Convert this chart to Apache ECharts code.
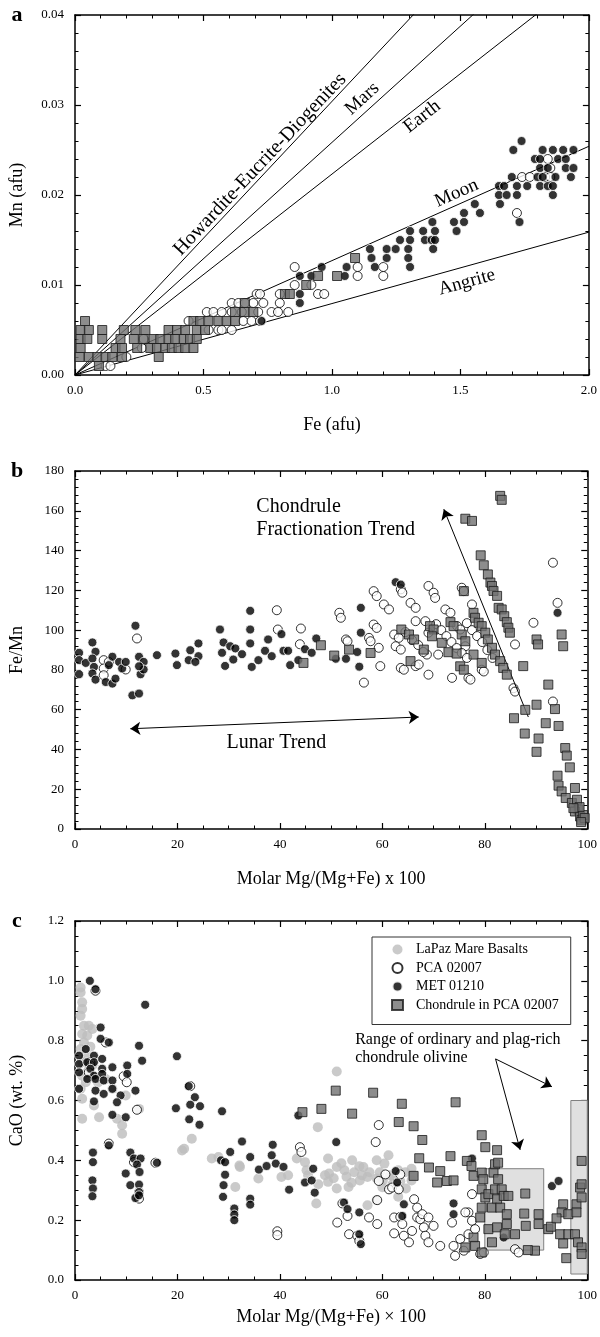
<!DOCTYPE html>
<html><head><meta charset="utf-8">
<script src="https://cdn.jsdelivr.net/npm/echarts@6/dist/echarts.min.js"></script>
<style>html,body{margin:0;padding:0;background:#fff}#c{width:600px;height:1337px}</style>
</head><body><div id="c"></div>
<script>
const FONT = '"Liberation Serif","Times New Roman",serif';

// ---------- Panel a : Mn vs Fe (afu) ----------
const lineNames = ['Howardite-Eucrite-Diogenites','Mars','Earth','Moon','Angrite'];
const lineRatios = [32.9, 38.7, 44.8, 78.7, 126];           // Fe/Mn of reference lines
const lineLabelFe = [0.72, 1.118, 1.351, 1.485, 1.525];
const lineLabelMn = [0.0234, 0.0307, 0.0287, 0.0202, 0.0103];

const aChondrule = [[0.018,0.002],[0.054,0.002],[0.087,0.002],[0.119,0.002],[0.145,0.002],[0.183,0.002],[0.326,0.002],
[0.022,0.003],[0.158,0.003],[0.183,0.003],[0.242,0.003],[0.293,0.003],[0.319,0.003],[0.351,0.003],[0.377,0.003],[0.403,0.003],[0.429,0.003],[0.461,0.003],
[0.022,0.004],[0.048,0.004],[0.106,0.004],[0.177,0.004],[0.229,0.004],[0.267,0.004],[0.306,0.004],[0.332,0.004],[0.364,0.004],[0.39,0.004],[0.423,0.004],[0.448,0.004],[0.474,0.004],
[0.022,0.005],[0.054,0.005],[0.106,0.005],[0.19,0.005],[0.235,0.005],[0.274,0.005],[0.364,0.005],[0.397,0.005],[0.429,0.005],[0.474,0.005],[0.506,0.005],
[0.039,0.006],[0.461,0.006],[0.487,0.006],[0.519,0.006],[0.558,0.006],[0.59,0.006],[0.623,0.006],
[0.623,0.007],[0.661,0.007],[0.694,0.007],[0.661,0.008],[0.817,0.009],[0.836,0.009],[0.9,0.010],[0.946,0.011],[1.02,0.011],[1.09,0.013],[0.093,0.001]];
const aPCA = [[0.119,0.001],[0.138,0.001],[0.2,0.002],[0.26,0.003],[0.267,0.004],[0.52,0.005],[0.558,0.005],[0.571,0.005],[0.61,0.005],[0.442,0.006],[0.655,0.006],[0.687,0.006],[0.72,0.006],
[0.513,0.007],[0.539,0.007],[0.571,0.007],[0.61,0.007],[0.649,0.007],[0.713,0.007],[0.765,0.007],[0.79,0.007],[0.83,0.007],[0.61,0.008],[0.636,0.008],[0.661,0.008],[0.694,0.008],[0.733,0.008],[0.797,0.008],
[0.707,0.009],[0.72,0.009],[0.797,0.009],[0.946,0.009],[0.97,0.009],[0.855,0.010],[0.92,0.010],[0.855,0.012],[1.1,0.011],[1.2,0.011],[1.1,0.012],[1.2,0.012],
[1.72,0.018],[1.74,0.022],[1.77,0.022],[1.83,0.022],[1.85,0.022],[1.84,0.024],[1.85,0.023]];
const aMET = [[0.726,0.006],[0.875,0.008],[0.875,0.009],[0.875,0.011],[0.92,0.011],[0.96,0.012],[1.057,0.012],[1.05,0.011],[1.167,0.012],[1.304,0.012],
[1.154,0.013],[1.213,0.013],[1.297,0.013],[1.148,0.014],[1.213,0.014],[1.248,0.014],[1.297,0.014],[1.394,0.014],
[1.265,0.015],[1.304,0.015],[1.362,0.015],[1.388,0.015],[1.401,0.015],[1.304,0.016],[1.355,0.016],[1.401,0.016],[1.485,0.016],
[1.391,0.017],[1.475,0.017],[1.514,0.017],[1.73,0.017],[1.514,0.018],[1.576,0.018],[1.556,0.019],[1.654,0.019],
[1.65,0.020],[1.68,0.020],[1.72,0.020],[1.86,0.020],[1.65,0.021],[1.67,0.021],[1.72,0.021],[1.76,0.021],[1.81,0.021],[1.84,0.021],[1.86,0.021],
[1.70,0.022],[1.80,0.022],[1.82,0.022],[1.87,0.022],[1.93,0.022],[1.81,0.023],[1.84,0.023],[1.91,0.023],[1.94,0.023],
[1.79,0.024],[1.81,0.024],[1.88,0.024],[1.91,0.024],[1.706,0.025],[1.82,0.025],[1.86,0.025],[1.90,0.025],[1.94,0.025],[1.738,0.026]];

// ---------- Panel b : Fe/Mn vs Mg# ----------
const bMET = [[0.8,88.6],[0.8,84.9],[0.8,77.8],[2.1,83.5],[3.4,93.8],[4.0,89.1],[3.4,85.7],[3.7,81.5],[3.4,78.2],[4.0,75.1],[6.0,73.9],[7.3,73.1],[7.9,75.6],[7.3,86.6],[6.6,82.4],[8.6,84.0],[9.2,80.7],[9.9,84.0],[11.8,102.2],[11.2,67.2],[12.5,68.1],[12.5,86.6],[13.4,84.0],[12.8,77.8],[13.4,80.2],[12.5,81.8],[16.0,87.4],
[19.6,88.2],[19.9,82.4],[22.2,84.9],[22.5,89.9],[24.1,93.3],[24.1,86.9],[23.5,84.0],
[28.3,100.3],[28.7,88.6],[29.0,93.8],[29.3,82.0],[30.3,91.9],[31.3,90.8],[30.9,85.2],[32.6,87.9],[34.2,109.7],[34.2,100.3],[34.2,93.3],[34.5,81.5],[35.8,84.9],[37.1,89.6],[37.7,95.3],[38.4,86.9],[40.3,98.0],[40.7,89.6],[42.0,82.4],[41.6,89.6],[43.6,84.9],[44.9,90.4],[46.2,88.6],[47.1,95.8],
[50.9,85.6],[52.9,85.6],[55.5,81.6],[55.1,89.0],[55.8,98.7],[55.8,111.2],[62.6,124.1],[63.6,122.9],[94.2,108.7]];
const bPCA = [[5.6,84.9],[5.6,80.7],[5.6,77.3],[9.9,80.2],[12.1,95.8],[6.6,84.0],[39.4,110],[39.6,100.3],[44.1,100.8],[43.9,92.9],
[51.6,108.7],[51.9,106.2],[52.9,95.3],[53.2,94.4],[57.4,96.1],[57.7,94.4],[59.3,91.1],[56.4,73.6],[58.3,102.8],[58.9,101.1],
[58.3,119.6],[58.9,117.1],[60.3,112.9],[61.3,110.4],[59.6,81.9],[62.3,97.8],[63.2,96.1],[62.6,91.9],[63.6,90.2],[63.6,81.0],[64.2,80.1],[66.5,81.9],[67.1,82.7],
[65.5,113.7],[66.5,111.2],[66.5,104.5],[68.4,104.5],[69.0,98.7],[68.7,87.7],[69.0,77.6],[70.9,87.7],[63.6,120.5],[63.9,118.8],[69.0,122.2],[70.0,118.8],[70.3,116.2],
[72.3,110.4],[73.3,108.7],[74.6,102.0],[75.2,100.3],[76.2,91.9],[73.6,76.0],[76.8,76.0],[77.2,75.1],
[75.5,121.3],[75.9,119.6],[77.5,112.9],[79.4,80.1],[79.8,79.2],[85.6,70.8],[85.9,69.1],[89.5,103.7],[85.9,92.8],[93.3,133.9],[94.2,113.7],[93.3,64.1],
[64.5,99],[65.8,95],[67,92.5],[68,89],[70.5,103],[71.5,100],[72.5,97],[73.5,94],[74.5,91],[75.5,88.5],[76.5,86],[76.5,103.5],[77.5,100],[78.5,97],[79.5,94],[80.5,90],[81.5,86]];
const bChondrule = [[44.6,83.5],[48.0,92.4],[50.6,87.2],[53.5,90.2],[57.7,88.5],[63.7,100.3],[65.2,97.8],[66.2,95.3],[68.1,90.2],[65.5,84.4],
[69.3,102.0],[70.0,100.3],[71.6,93.6],[72.9,88.9],[74.5,88.2],[69.7,96.9],[73.3,104.0],[73.9,102.0],[75.5,97.8],[76.2,94.4],[77.8,87.7],[75.2,81.8],[75.9,80.1],[79.4,83.5],
[75.9,119.6],[77.8,108.7],[78.1,106.2],[78.8,103.7],[79.4,102.0],[80.1,98.7],[80.6,95.3],[81.4,91.1],[82.0,87.7],[83.0,84.4],[83.6,81.0],[84.3,77.6],
[83.0,167.5],[83.3,165.5],[76.2,156.0],[77.5,154.9],[79.2,137.6],[79.8,132.6],[80.6,128.0],[81.1,123.9],[81.4,122.2],[81.7,119.7],[82.4,117.2],
[82.7,111.2],[83.3,110.4],[83.8,107.0],[84.3,104.0],[84.6,101.2],[84.9,98.7],
[87.5,81.9],[90.1,95.3],[90.4,92.8],[95.0,97.8],[95.3,91.9],[92.4,72.6],[93.7,60.3],[90.1,62.5],
[85.7,55.7],[87.9,59.9],[91.9,53.2],[94.4,51.8],[87.8,48.0],[90.5,45.5],[90.1,38.8],
[95.7,40.7],[96.0,36.9],[96.6,31.0],[94.2,26.8],[94.4,21.8],[95.0,18.9],[97.6,20.6],[95.8,15.6],[97.0,13.1],[98.0,14.7],[98.3,9.7],[97.6,8.8],[98.6,6.3],[98.9,4.6],[99.2,7.0],[98.5,11.0],[97.3,10.5],[99.5,5.5],[98.8,3.5]];

// ---------- Panel c : CaO vs Mg# ----------
const cLaPaz = [[1.1,0.978],[1.1,0.961],[1.4,0.928],[1.4,0.906],[1.1,0.883],[1.75,0.85],[2.7,0.85],[3.4,0.839],[1.4,0.822],[2.4,0.817],[1.75,0.794],[1.1,0.772],[2.1,0.75],[1.4,0.728],[3.4,0.717],[1.4,0.683],[2.1,0.661],[1.1,0.639],[1.4,0.606],[3.7,0.583],[1.4,0.539],[4.7,0.544],[8.2,0.539],[9.2,0.517],[9.2,0.489],[12.5,0.572],[9.9,0.617],[6.0,0.672],[7.3,0.639],[2.6,0.7],[3.0,0.78],[4.5,0.66],
[20.9,0.433],[22.8,0.472],[21.3,0.439],[26.7,0.406],[28.0,0.411],[32.2,0.378],[31.3,0.311],[32.1,0.383],[35.8,0.339],[40.3,0.344],[41.6,0.35],[43.3,0.406],[44.9,0.394],[45.2,0.367],[45.5,0.35],[47.1,0.256],[48.8,0.35],[49.4,0.406],[47.4,0.511],[49.4,0.328],[51.1,0.697],
[54.1,0.4],[58.9,0.4],[61.2,0.417],[51.1,0.378],[49.6,0.356],[51.1,0.306],[55.6,0.333],[60.1,0.333],[65.7,0.372],[65.7,0.333],[58.9,0.267],[64.6,0.306],[53.4,0.311],[57.1,0.344],[52.6,0.367],[56.3,0.378],[62.2,0.344],[58.9,0.339],[60.4,0.389],[57.1,0.25],[63.1,0.278],[63.1,0.367],
[50.5,0.34],[53.0,0.345],[54.5,0.36],[55.5,0.38],[57.5,0.36],[59.5,0.36],[61.5,0.35],[63.5,0.33],[54.0,0.325],[56.0,0.35],[60.0,0.31],[62.0,0.32],[64.5,0.36],[66.0,0.35],[52.0,0.39],[47.5,0.32]];
const cPCA = [[9.5,0.681],[10.1,0.661],[12.1,0.569],[11.5,0.394],[12.5,0.272],[12.5,0.294],[15.7,0.392],[22.5,0.648],[6.6,0.456],[43.9,0.444],[44.2,0.428],[39.5,0.163],[39.5,0.15],[4.0,0.967],[6.0,0.794],[3.0,0.728],[3.0,0.717],[2.7,0.694],
[59.3,0.518],[58.7,0.461],[60.6,0.353],[61.3,0.303],[59.3,0.331],[61.9,0.309],[63.2,0.303],[63.5,0.353],[59.0,0.267],[52.2,0.256],[51.2,0.192],[53.2,0.214],[53.5,0.153],[55.1,0.148],[55.5,0.131],[57.4,0.209],[59.0,0.187],
[62.3,0.209],[63.5,0.211],[63.9,0.187],[62.3,0.156],[64.2,0.148],[65.2,0.126],[65.8,0.164],[66.8,0.209],[67.4,0.203],[68.1,0.176],[68.4,0.148],[69.0,0.126],[70.0,0.181],[66.2,0.27],[66.8,0.242],[67.8,0.22],[69.0,0.209],
[71.3,0.114],[73.9,0.114],[74.2,0.081],[75.2,0.137],[75.9,0.098],[76.8,0.153],[77.5,0.287],[76.8,0.226],[77.5,0.198],[78.1,0.17],[79.1,0.087],[79.8,0.092],[85.9,0.103],[86.6,0.092],[73.6,0.192],[76.2,0.226]];
const cMET = [[2.9,1.0],[4.0,0.972],[13.7,0.92],[5.0,0.844],[5.0,0.806],[6.6,0.794],[2.1,0.772],[0.8,0.75],[3.7,0.75],[0.8,0.722],[2.4,0.728],[3.7,0.728],[5.3,0.739],[0.8,0.694],[3.0,0.706],[5.3,0.706],[3.7,0.683],[5.3,0.689],[7.3,0.711],[10.2,0.717],
[2.4,0.672],[4.0,0.672],[5.6,0.667],[7.3,0.667],[0.8,0.639],[4.0,0.633],[5.6,0.622],[7.3,0.639],[8.9,0.617],[3.7,0.597],[8.2,0.594],[7.3,0.552],[11.8,0.633],[9.9,0.544],[12.5,0.783],[13.1,0.733],[10.2,0.689],
[19.9,0.748],[22.2,0.648],[23.4,0.611],[22.5,0.586],[24.4,0.581],[19.7,0.574],[22.3,0.537],[24.3,0.519],[28.7,0.564],[6.6,0.45],
[3.5,0.426],[3.5,0.394],[3.4,0.333],[3.5,0.306],[3.4,0.28],[10.8,0.426],[11.5,0.406],[12.8,0.406],[12.1,0.386],[12.6,0.361],[9.9,0.356],[10.8,0.317],[12.5,0.319],[12.5,0.294],[11.8,0.274],[12.5,0.283],[16.0,0.392],
[28.5,0.4],[29.3,0.394],[30.3,0.428],[32.6,0.463],[34.2,0.411],[29.3,0.352],[29.0,0.317],[28.9,0.278],[31.1,0.239],[31.1,0.219],[31.1,0.2],[34.2,0.272],[34.2,0.252],
[35.9,0.369],[37.4,0.381],[38.6,0.452],[38.4,0.417],[39.2,0.389],[40.7,0.378],[41.8,0.302],[44.9,0.326],[46.5,0.372],[46.2,0.333],[46.8,0.292],[43.6,0.55],
[51.0,0.461],[62.6,0.364],[62.9,0.326],[52.5,0.259],[53.2,0.237],[55.5,0.226],[55.5,0.153],[55.8,0.12],[64.2,0.253],[63.9,0.214],[73.9,0.256],[73.9,0.22],[77.5,0.406],[83.7,0.142],[93.1,0.314],[94.4,0.331]];
const cChondrule = [[44.4,0.561],[48.1,0.572],[54.1,0.556],[63.8,0.589],[74.3,0.594],[50.9,0.633],[58.2,0.626],
[63.2,0.528],[66.1,0.514],[67.8,0.468],[79.4,0.484],[80.1,0.444],[82.4,0.434],[67.2,0.407],[69.1,0.376],
[71.3,0.364],[73.3,0.414],[72.6,0.331],[70.7,0.326],[73.9,0.333],[76.5,0.398],[77.4,0.381],[77.8,0.348],[79.4,0.359],[79.7,0.337],[81.7,0.359],[82.0,0.387],[82.6,0.337],[82.6,0.392],[66.1,0.348],
[79.4,0.303],[80.1,0.276],[79.4,0.242],[80.7,0.287],[82.0,0.303],[82.4,0.27],[83.3,0.303],[83.7,0.281],[84.6,0.281],[81.4,0.242],[83.0,0.242],[84.3,0.22],[79.1,0.209],[80.7,0.17],[82.4,0.176],[84.3,0.187],[83.9,0.153],[85.9,0.153],
[87.9,0.289],[87.7,0.222],[88.0,0.181],[90.5,0.22],[90.5,0.187],[92.4,0.17],[89.8,0.098],[81.4,0.126],[77.8,0.142],[76.2,0.109],[78.1,0.114],[79.4,0.092],
[95.3,0.253],[95.0,0.226],[96.3,0.22],[97.9,0.253],[97.9,0.226],[98.9,0.398],[98.6,0.309],[98.9,0.276],[98.9,0.32],[94.7,0.153],[96.3,0.153],[97.6,0.153],[95.3,0.122],[98.2,0.126],[98.9,0.109],[98.9,0.087],[95.9,0.073],
[92.9,0.178],[94.0,0.206],[88.4,0.1]];

// shaded chondrule-olivine ranges [xmin, ymin, xmax, ymax]
const cRanges = [[80, 0.1, 91.5, 0.372], [96.8, 0.02, 100, 0.6]];

// annotation arrows [x1,y1,x2,y2]
const bChondruleArrow = [88.5, 56.3, 72.0, 160.8];
const bLunarArrow = [10.8, 50.4, 67.1, 56.3];
const cArrows = [[82.1, 0.739, 93.1, 0.646], [82.1, 0.739, 86.9, 0.435]];

const xTicksA = {min:0, max:2, interval:0.5};
const yTicksA = {min:0, max:0.04, interval:0.01};
const xTicksB = {min:0, max:100, interval:20};
const yTicksB = {min:0, max:180, interval:20};
const yTicksC = {min:0, max:1.2, interval:0.2};

function axis(gi, pos, t, minorN, fmt, showLabel, name, nameGap) {
  const o = {
    type:'value', gridIndex:gi, position:pos, min:t.min, max:t.max, interval:t.interval,
    axisLine:{show:true, onZero:false, lineStyle:{color:'#000', width:1.5}},
    axisTick:{show:true, inside:true, length:6, lineStyle:{color:'#000', width:1.2}},
    minorTick:{show:true, splitNumber:minorN, length:3.5, lineStyle:{color:'#000', width:1}},
    splitLine:{show:false}, minorSplitLine:{show:false},
    axisLabel:{show:showLabel, formatter:fmt, color:'#000', fontFamily:FONT, fontSize:13,
      margin:(pos==='left'||pos==='right')?11:9},
  };
  if (name) {
    o.name = name; o.nameLocation = 'middle'; o.nameGap = nameGap;
    o.nameTextStyle = {fontFamily:FONT, fontSize:18, color:'#000'};
  }
  return o;
}
const f2 = v => v.toFixed(2), f1 = v => v.toFixed(1), f0 = v => String(v);

const grids = [
  {left:75, top:15, width:514, height:360},
  {left:75, top:471, width:514, height:358},
  {left:75, top:921, width:514, height:359}
];

// axis index 2*g = bottom/left of panel g, 2*g+1 = mirrored top/right
const xAxes = [
  axis(0,'bottom',xTicksA,5,f1,true,'Fe (afu)',41), axis(0,'top',xTicksA,5,f1,false),
  axis(1,'bottom',xTicksB,4,f0,true,'Molar Mg/(Mg+Fe) x 100',41), axis(1,'top',xTicksB,4,f0,false),
  axis(2,'bottom',xTicksB,4,f0,true,'Molar Mg/(Mg+Fe) \u00d7 100',28), axis(2,'top',xTicksB,4,f0,false)
];
const yAxes = [
  axis(0,'left',yTicksA,5,f2,true,'Mn (afu)',49), axis(0,'right',yTicksA,5,f2,false),
  axis(1,'left',yTicksB,5,f0,true,'Fe/Mn',49), axis(1,'right',yTicksB,5,f0,false),
  axis(2,'left',yTicksC,4,f1,true,'CaO (wt. %)',49), axis(2,'right',yTicksC,4,f1,false)
];

const stylePCA = {color:'#fff', borderColor:'#000', borderWidth:1};
const styleMET = {color:'#000', borderColor:'#fff', borderWidth:1};
const styleCh = {color:'#707070', borderColor:'#1a1a1a', borderWidth:1};
const styleLP = {color:'#bdbdbd'};

function scat(name, data, g, style, symbol, size, z) {
  return {type:'scatter', name, data, xAxisIndex:2*g, yAxisIndex:2*g, symbol, symbolSize:size,
    itemStyle:style, z, silent:true, emphasis:{disabled:true}};
}
function arrowSeries(g, segs, both) {
  return {type:'line', data:[], xAxisIndex:2*g, yAxisIndex:2*g, silent:true, z:6,
    markLine:{silent:true, symbol: both ? ['arrow','arrow'] : ['none','arrow'], symbolSize:10, precision:6,
      lineStyle:{color:'#000', width:1, type:'solid'}, label:{show:false}, emphasis:{disabled:true},
      animation:false,
      data: segs.map(s => [{coord:[s[0],s[1]]},{coord:[s[2],s[3]]}])}};
}

const series = [];
lineRatios.forEach((r, i) => {
  series.push({type:'line', name:lineNames[i], data:[[0,0],[2.0, 2.0/r]], xAxisIndex:0, yAxisIndex:0,
    symbol:'none', clip:true, silent:true, z:1, lineStyle:{color:'#000', width:1}});
});
series.push(scat('PCA 02007', aPCA, 0, stylePCA, 'circle', 9, 3));
series.push(scat('MET 01210', aMET, 0, styleMET, 'circle', 9, 4));
series.push(scat('Chondrule in PCA 02007', aChondrule, 0, styleCh, 'rect', 9, 5));

series.push(scat('PCA 02007', bPCA, 1, stylePCA, 'circle', 9, 3));
series.push(scat('MET 01210', bMET, 1, styleMET, 'circle', 9, 4));
series.push(scat('Chondrule in PCA 02007', bChondrule, 1, styleCh, 'rect', 9, 5));
series.push(arrowSeries(1, [bChondruleArrow], false));
series.push(arrowSeries(1, [bLunarArrow], true));

const lp = scat('LaPaz Mare Basalts', cLaPaz, 2, styleLP, 'circle', 10, 2);
lp.markArea = {silent:true, itemStyle:{color:'#e0e0e0', borderColor:'#808080', borderWidth:1},
  data: cRanges.map(r => [{coord:[r[0], r[1]]}, {coord:[r[2], r[3]]}])};
series.push(lp);
series.push(scat('PCA 02007', cPCA, 2, stylePCA, 'circle', 9, 3));
series.push(scat('MET 01210', cMET, 2, styleMET, 'circle', 9, 4));
series.push(scat('Chondrule in PCA 02007', cChondrule, 2, styleCh, 'rect', 9, 5));
series.push(arrowSeries(2, cArrows, false));

const chart = echarts.init(document.getElementById('c'), null, {renderer:'canvas'});
chart.setOption({
  animation:false, backgroundColor:'#fff',
  grid: grids, xAxis: xAxes, yAxis: yAxes, series,
  legend: {
    data: ['LaPaz Mare Basalts','PCA 02007','MET 01210','Chondrule in PCA 02007'],
    orient:'vertical', left:372, top:937, itemGap:3.5, itemWidth:11, itemHeight:10,
    padding:[5, 12, 12, 19], borderColor:'#333', borderWidth:1, selectedMode:false,
    textStyle:{fontFamily:FONT, fontSize:14, color:'#000', lineHeight:15, padding:[0,0,0,8]}
  }
});

function txt(gi, x, y, text, size, align, rot, bold) {
  const p = chart.convertToPixel({gridIndex:gi}, [x, y]);
  return {type:'text', x:p[0], y:p[1], rotation:rot||0, silent:true, z:100,
    style:{text, fill:'#000', font:(bold?'bold ':'') + size + 'px ' + FONT,
      textAlign:align, textVerticalAlign:'middle', align:align, verticalAlign:'middle'}};
}
const g = [];
lineNames.forEach((n, i) => {
  const p0 = chart.convertToPixel({gridIndex:0}, [0, 0]);
  const p1 = chart.convertToPixel({gridIndex:0}, [1, 1/lineRatios[i]]);
  const ang = Math.atan2(p0[1]-p1[1], p1[0]-p0[0]);
  g.push(txt(0, lineLabelFe[i], lineLabelMn[i], n, i === 0 ? 20 : 19, 'center', ang));
});
g.push(txt(1, 35.4, 162, 'Chondrule', 20, 'left'));
g.push(txt(1, 35.4, 150.7, 'Fractionation Trend', 20, 'left'));
g.push(txt(1, 39.3, 43.2, 'Lunar Trend', 20, 'center'));
g.push(txt(2, 54.7, 0.803, 'Range of ordinary and plag-rich', 16, 'left'));
g.push(txt(2, 54.7, 0.742, 'chondrule olivine', 16, 'left'));
// panel letters
[['a',15],['b',471],['c',921]].forEach(([l, y]) => {
  g.push({type:'text', x:17, y:y, silent:true, z:100,
    style:{text:l, fill:'#000', font:'bold 22px ' + FONT, textAlign:'center', textVerticalAlign:'middle', align:'center', verticalAlign:'middle'}});
});
chart.setOption({graphic: g});
</script></body></html>
